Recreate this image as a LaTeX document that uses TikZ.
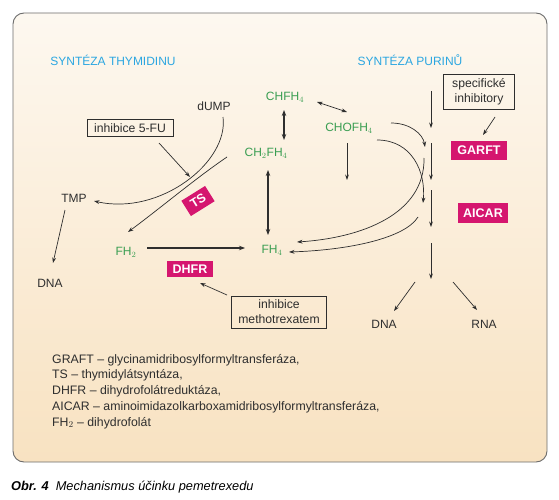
\documentclass[tikz,border=0pt]{standalone}
\usepackage{fontspec}
\setmainfont{Liberation Sans}
\usetikzlibrary{arrows.meta, positioning, calc}

\definecolor{txt}{HTML}{2E2E2E}
\definecolor{folgreen}{HTML}{3A9E52}
\definecolor{titleblue}{HTML}{2BA6E1}
\definecolor{enzmag}{HTML}{D5166F}
\definecolor{bgtop}{HTML}{FDF8F0}
\definecolor{bgbottom}{HTML}{F8E2C1}

\begin{document}
\begin{tikzpicture}[
    x=1pt, y=-1pt,
    lbl/.style={font=\fontsize{12}{14}\selectfont, text=txt, inner sep=1pt},
    folate/.style={lbl, text=folgreen},
    heading/.style={lbl, text=titleblue},
    inhibit/.style={draw=txt, line width=0.8pt, align=center, font=\fontsize{12.2}{15}\selectfont, text=txt, inner xsep=7pt, inner ysep=4pt},
    enzyme/.style={fill=enzmag, text=white, font=\fontsize{12.5}{14}\selectfont\bfseries, inner xsep=6pt, minimum height=17pt},
    arrow/.style={-{Stealth[length=5.5pt, width=3.8pt]}, line width=0.7pt, draw=txt},
    twoway/.style={{Stealth[length=5.5pt, width=3.8pt]}-{Stealth[length=5.5pt, width=3.8pt]}, line width=0.7pt, draw=txt},
    bigtwoway/.style={{Stealth[length=6pt, width=4.5pt]}-{Stealth[length=6pt, width=4.5pt]}, line width=1.4pt, draw=txt},
    bigarrow/.style={-{Stealth[length=6pt, width=4.5pt]}, line width=1.4pt, draw=txt}
]
    \useasboundingbox (0,0) rectangle (559,500);

    % panel
    \draw[draw=gray!85!black, line width=0.9pt, rounded corners=11pt, top color=bgtop, bottom color=bgbottom] (13,13) rectangle (547,462);

    % headings
    \node[heading] (headT) at (113,60) {SYNTÉZA THYMIDINU};
    \node[heading] (headP) at (410,60) {SYNTÉZA PURINŮ};

    % thymidine side
    \node[lbl] (dump) at (214,106) {dUMP};
    \node[inhibit] (fu) at (130,128) {inhibice 5-FU};
    \node[lbl] (tmp) at (74,198) {TMP};
    \node[lbl] (dnaL) at (50,283) {DNA};
    \node[enzyme, rotate=32, minimum height=18pt] (ts) at (198,201) {TS};
    \node[folate] (fh2) at (126,252) {FH$_2$};
    \node[enzyme, minimum height=16pt] (dhfr) at (190,269) {DHFR};
    \node[inhibit] (metho) at (279,312) {inhibice\\methotrexatem};

    % folates
    \node[folate] (chfh4) at (285,97) {CHFH$_4$};
    \node[folate] (ch2fh4) at (266,153) {CH$_2$FH$_4$};
    \node[folate] (chofh4) at (349,128) {CHOFH$_4$};
    \node[folate] (fh4) at (272,250) {FH$_4$};

    % purine side
    \node[inhibit, inner xsep=9pt, font=\fontsize{12.2}{15.5}\selectfont] (spec) at (479,92) {specifické\\inhibitory};
    \node[enzyme, minimum height=19pt] (garft) at (479,150) {GARFT};
    \node[enzyme, minimum height=20pt, inner xsep=5pt] (aicar) at (483,213) {AICAR};
    \node[lbl] (dnaR) at (384,324) {DNA};
    \node[lbl] (rnaR) at (484,324) {RNA};

    \coordinate (p1) at (431,91);
    \coordinate (p2) at (431,128);
    \coordinate (p3) at (431,143);
    \coordinate (p4) at (431,180);
    \coordinate (p5) at (431,190);
    \coordinate (p6) at (431,227);
    \coordinate (p7) at (431,243);
    \coordinate (p8) at (431,279);

    % legend
    \node[lbl, anchor=north west, align=left, font=\fontsize{12.3}{15.7}\selectfont] (legend) at (51,353) {%
        GRAFT -- glycinamidribosylformyltransferáza,\\
        TS -- thymidylátsyntáza,\\
        DHFR -- dihydrofolátreduktáza,\\
        AICAR -- aminoimidazolkarboxamidribosylformyltransferáza,\\
        FH$_2$ -- dihydrofolát};

    % caption
    \node[lbl, anchor=west, text=black, font=\fontsize{12.8}{15}\selectfont] (caption) at (10,487) {\textbf{\textit{Obr. 4}}\ \ \textit{Mechanismus účinku pemetrexedu}};

    % thymidine arrows
    \draw[arrow] ($(dump)+(9,11)$) .. controls (229,162) and (160,216) .. ($(tmp)+(20,3)$);
    \draw[arrow] ($(ch2fh4)+(-39,4)$) .. controls (196,178) and (158,210) .. ($(fh2)+(2,-20)$);
    \draw[arrow] ($(fu)+(29,15)$) -- ($(ts)+(-8,-24)$);
    \draw[arrow] ($(tmp)+(-9,12)$) -- ($(dnaL)+(3,-20)$);
    \draw[bigarrow] ($(fh2)+(21,-4)$) -- ($(fh4)+(-27,-2)$);
    \draw[arrow] ($(metho)+(-52,-17)$) -- ($(dhfr)+(10,14)$);

    % folate arrows
    \draw[bigtwoway] ($(chfh4)+(-1,13)$) -- ($(ch2fh4)+(18,-13)$);
    \draw[bigtwoway] ($(ch2fh4)+(2,17)$) -- ($(fh4)+(-4,-15)$);
    \draw[twoway] ($(chfh4)+(32,5)$) -- ($(chofh4)+(-2,-16)$);
    \draw[arrow] ($(chofh4)+(-2,15)$) -- ++(0,37);
    \draw[arrow] ($(chofh4)+(42,-5)$) .. controls (410,123) and (423,134) .. ($(p3)+(-6,4)$);
    \draw[arrow] ($(chofh4)+(28,12)$) .. controls (412,140) and (426,172) .. ($(p6)+(-8,-24)$);
    \draw[arrow] ($(p3)+(-7,15)$) .. controls (425,215) and (360,238) .. ($(fh4)+(25,-8)$);
    \draw[arrow] ($(p6)+(-13,-10)$) .. controls (405,238) and (350,250) .. ($(fh4)+(17,2)$);

    % purine chain
    \draw[arrow] (p1) -- (p2);
    \draw[arrow] (p3) -- (p4);
    \draw[arrow] (p5) -- (p6);
    \draw[arrow] (p7) -- (p8);
    \draw[arrow] ($(spec)+(16,25)$) -- ($(garft)+(4,-15)$);
    \draw[arrow] ($(p8)+(-16,3)$) -- ($(dnaR)+(10,-13)$);
    \draw[arrow] ($(p8)+(22,3)$) -- ($(rnaR)+(-7,-14)$);
\end{tikzpicture}
\end{document}
